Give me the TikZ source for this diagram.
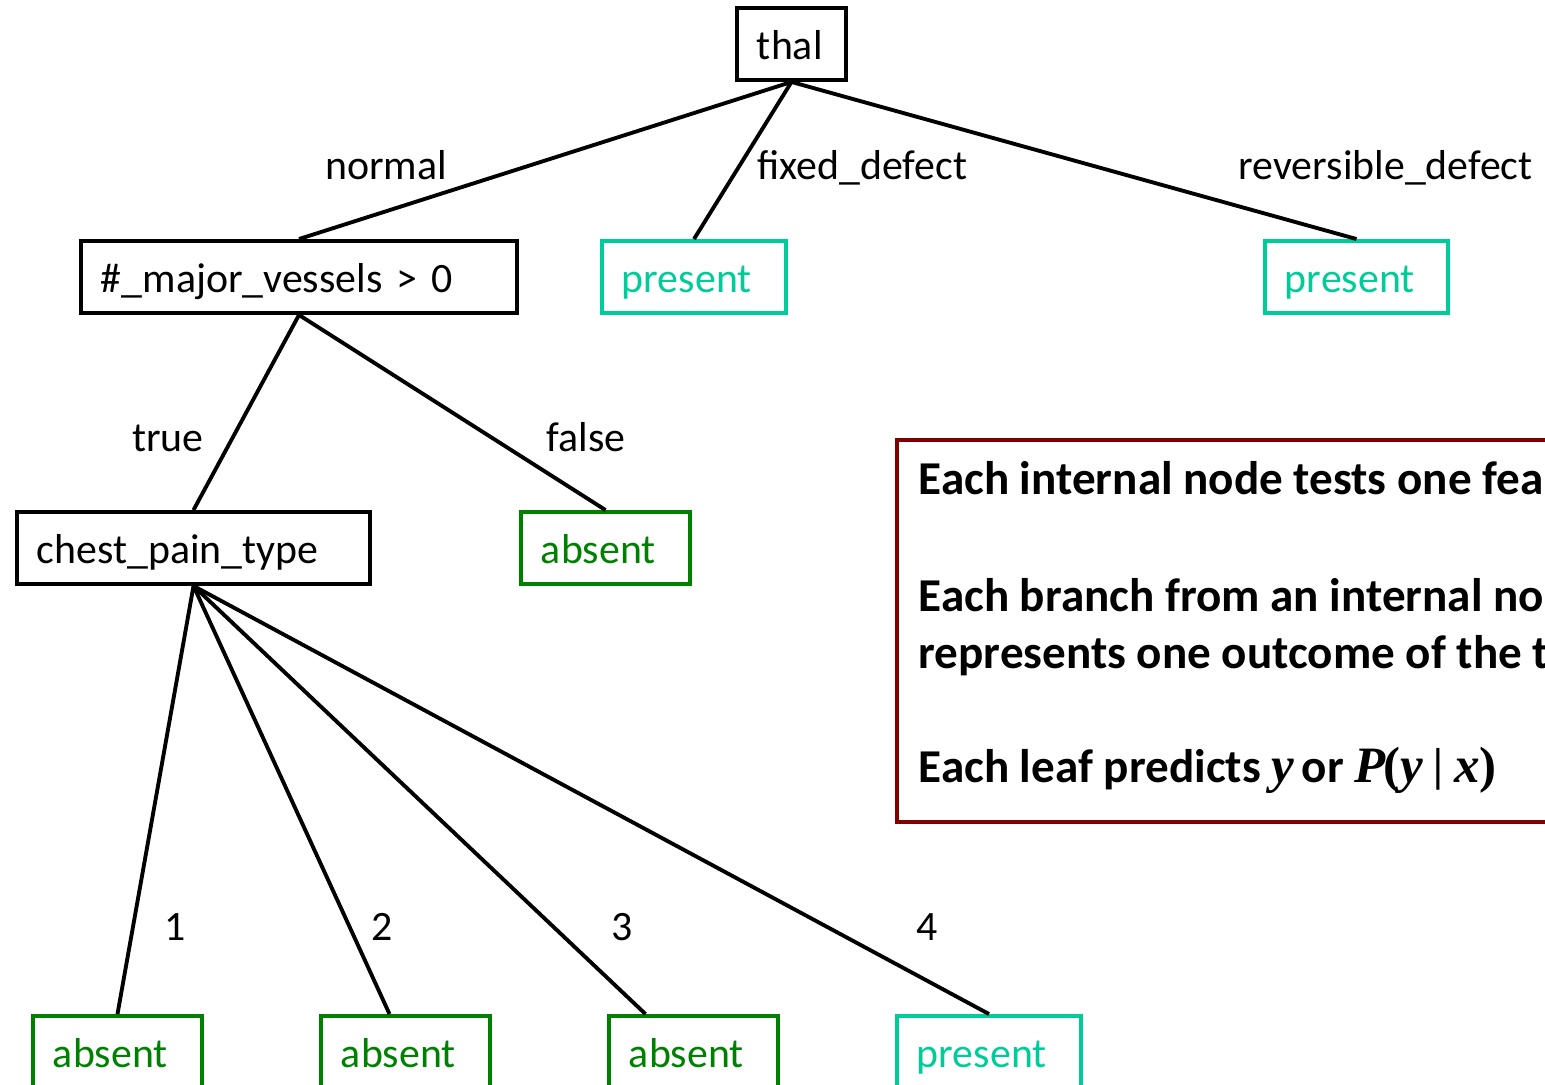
\documentclass[tikz,border=0pt]{standalone}
\usepackage{fontspec}
\setmainfont{Carlito}
\newfontfamily\serifmath{Liberation Serif}
\usetikzlibrary{calc}
\definecolor{leafgreen}{RGB}{0,128,0}
\definecolor{leafteal}{RGB}{0,204,153}
\definecolor{notered}{RGB}{128,0,0}
\begin{document}
\begin{tikzpicture}[x=0.01cm,y=-0.01cm,
  treebox/.style={draw, line width=1.1pt, rectangle, inner xsep=0.2cm, inner ysep=0pt,
    minimum height=0.72cm, text height=0.36cm, text depth=0.06cm, align=left,
    font=\fontsize{11.9}{14}\selectfont},
  testbox/.style={treebox, draw=black, text=black},
  absentbox/.style={treebox, draw=leafgreen, text=leafgreen, text width=1.29cm},
  presentbox/.style={treebox, draw=leafteal, text=leafteal, text width=1.44cm},
  branch/.style={line width=1.1pt, black},
  branchlabel/.style={inner sep=0pt, font=\fontsize{11.9}{14}\selectfont},
  noteline/.style={inner sep=0pt, anchor=base west, font=\fontsize{13.4}{16}\selectfont\bfseries},
  mathvar/.style={}
]
\useasboundingbox (0,0) rectangle (1545,1085);
\clip (0,0) rectangle (1545,1085);

% tree nodes
\node[testbox, text width=0.69cm] (thal) at (791.5,44) {thal};
\node[testbox, text width=3.96cm] (vessels) at (299,277) {\#\_major\_vessels > 0};
\node[presentbox] (fixed) at (694,277) {present};
\node[presentbox, text width=1.43cm] (rev) at (1356.5,277) {present};
\node[testbox, text width=3.13cm] (chest) at (193.5,548) {chest\_pain\_type};
\node[absentbox] (vfalse) at (605.5,548) {absent};
\node[absentbox] (c1) at (117.5,1052) {absent};
\node[absentbox] (c2) at (405.5,1052) {absent};
\node[absentbox] (c3) at (693.5,1052) {absent};
\node[presentbox] (c4) at (989,1052) {present};

% branches
\draw[branch] (thal.south) -- (vessels.north);
\draw[branch] (thal.south) -- (fixed.north);
\draw[branch] (thal.south) -- (rev.north);
\draw[branch] (vessels.south) -- (chest.north);
\draw[branch] (vessels.south) -- (vfalse.north);
\draw[branch] (chest.south) -- (c1.north);
\draw[branch] (chest.south) -- ($(c2.north)+(-16,0)$);
\draw[branch] (chest.south) -- ($(c3.north)+(-48,0)$);
\draw[branch] (chest.south) -- (c4.north);

% branch labels
\node[branchlabel, anchor=base] (lnormal) at (386,180) {normal};
\node[branchlabel, anchor=base west] (lfixed) at (757,180) {fixed\_defect};
\node[branchlabel, anchor=base west] (lrev) at (1238,180) {reversible\_defect};
\node[branchlabel, anchor=base] (ltrue) at (168,452) {true};
\node[branchlabel, anchor=base] (lfalse) at (586,452) {false};
\node[branchlabel, anchor=base] (l1) at (175,940) {1};
\node[branchlabel, anchor=base] (l2) at (382,940) {2};
\node[branchlabel, anchor=base] (l3) at (622,940) {3};
\node[branchlabel, anchor=base] (l4) at (927,940) {4};

% explanation panel
\draw[notered, line width=1.4pt] (897,440) rectangle (1620,822);
\node[noteline] (n1) at (918,494) {Each internal node tests one fea};
\node[noteline] (n2) at (918,611) {Each branch from an internal no};
\node[noteline] (n3) at (918,668) {represents one outcome of the t};
\node[noteline] (n4) at (918,782) {Each leaf predicts
  {\serifmath\fontsize{14.5}{16}\selectfont\bfseries\itshape y}\,or
  {\serifmath\fontsize{14.5}{16}\selectfont\bfseries\itshape P\kern-0.05em{\upshape(}y\kern0.1em}{\mdseries|}\kern0.1em{\serifmath\fontsize{14.5}{16}\selectfont\bfseries\itshape x{\upshape)}}};
\end{tikzpicture}
\end{document}
